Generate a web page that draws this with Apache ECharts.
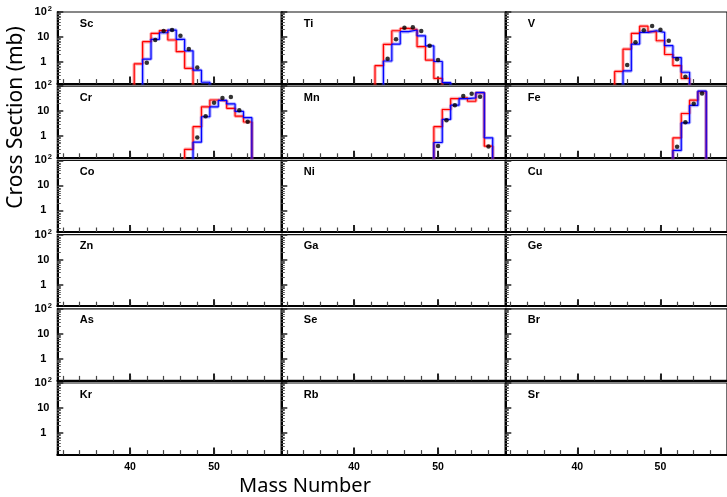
<!DOCTYPE html>
<html><head><meta charset="utf-8">
<script src="https://cdn.jsdelivr.net/npm/echarts@6/dist/echarts.min.js"></script>
<style>html,body{margin:0;padding:0;background:#fff}#c{width:727px;height:497px}</style>
</head><body><div id="c"></div><script>
// ---- data ----
const elements = ['Sc','Ti','V','Cr','Mn','Fe','Co','Ni','Cu','Zn','Ga','Ge','As','Se','Br','Kr','Rb','Sr'];

// red calculation (histogram), [mass number, mb]
const scRed = [[41,0.85],[42,6.5],[43,14],[44,18],[45,7.6],[46,2.6],[47,0.56]];
const tiRed = [[43,0.72],[44,5.1],[45,17.8],[46,22],[47,20],[48,4.1],[49,1.2],[50,0.22]];
const vRed  = [[45,0.42],[46,3.3],[47,14],[48,27],[49,16.3],[50,7.1],[51,2.0],[52,0.72],[53,0.22]];
const crRed = [[47,0.3],[48,2.4],[49,15],[50,28],[51,26],[52,13],[53,6.3],[54,3.7]];
const mnRed = [[50,2.4],[51,11.7],[52,32],[53,34],[54,25],[55,55],[56,0.4]];
const feRed = [[52,0.86],[53,8.1],[54,27.5],[55,60]];

// blue calculation (histogram)
const scBlue = [[42,1.3],[43,8.1],[44,14.8],[45,19],[46,8.1],[47,2.8],[48,0.47],[49,0.155]];
const tiBlue = [[44,1.1],[45,5.2],[46,16.3],[47,19],[48,11.2],[49,4.4],[50,1.05],[51,0.15]];
const vBlue  = [[46,0.44],[47,5.2],[48,15.4],[49,17.8],[50,15.4],[51,4.5],[52,1.5],[53,0.39]];
const crBlue = [[48,0.58],[49,6],[50,15],[51,27],[52,19.5],[53,9.8],[54,5.5]];
const mnBlue = [[50,0.56],[51,4.7],[52,17.4],[53,32],[54,34],[55,55],[56,0.86]];
const feBlue = [[52,0.27],[53,3.4],[54,17],[55,63]];

// measured points
const scExp = [[42,0.94],[43,7.6],[44,17.4],[45,19],[46,11.2],[47,3.3],[48,0.61]];
const tiExp = [[44,1.35],[45,8.1],[46,23.6],[47,24.5],[48,17.4],[49,4.5],[50,1.2]];
const vExp  = [[46,0.76],[47,6.1],[48,18.6],[49,27.5],[50,19.6],[51,7.1],[52,1.3],[53,0.26]];
const crExp = [[48,0.88],[49,6.3],[50,22],[51,34],[52,37],[53,11],[54,3.8]];
const mnExp = [[50,0.41],[51,4.3],[52,17.4],[53,41],[54,50],[55,38],[56,0.39]];
const feExp = [[52,0.38],[53,3.6],[54,20],[55,51]];

// axis ticks / labels
const xMajorTicks = [40, 50];
const xAllTicks = [32,34,36,38,40,42,44,46,48,50,52,54,56];
const yMajorTicks = [1, 10, 100];
const yMinorTicks = [0.2,0.3,0.4,0.5,0.6,0.7,0.8,0.9,2,3,4,5,6,7,8,9,20,30,40,50,60,70,80,90];
const xMin = 31.35, xMax = 58;
const yMin = 0.137, yMax = 100;

const panelData = {
  Sc: [scRed, scBlue, scExp], Ti: [tiRed, tiBlue, tiExp], V: [vRed, vBlue, vExp],
  Cr: [crRed, crBlue, crExp], Mn: [mnRed, mnBlue, mnExp], Fe: [feRed, feBlue, feExp]
};

// ---- layout ----
const colLeft = [57.3, 281.3, 505.3];
const gridW = 224;
const rowTop0 = 12, rowStep = 74.2, gridH = 71.6;

function stepPoints(arr) {
  const floor = 0.01;
  const pts = [[arr[0][0] - 0.5, floor]];
  arr.forEach(([a, v]) => { pts.push([a - 0.5, v]); pts.push([a + 0.5, v]); });
  pts.push([arr[arr.length - 1][0] + 0.5, floor]);
  return pts;
}

const grids = [], xAxes = [], yAxes = [], series = [], graphics = [];
const font = 'Liberation Sans, Arial, sans-serif';

elements.forEach((el, i) => {
  const r = Math.floor(i / 3), c = i % 3;
  const top = rowTop0 + r * rowStep;
  grids.push({ left: colLeft[c], top: top, width: gridW, height: gridH,
    show: true, borderColor: '#111', borderWidth: 1.2, backgroundColor: 'transparent' });
  const xi = xAxes.length, yi = yAxes.length;
  // main x axis: line, labels and short ticks every 2
  xAxes.push({ type: 'value', gridIndex: i, position: 'bottom', min: xMin, max: xMax,
    axisLine: { show: true, onZero: false, lineStyle: { color: '#000', width: 2 } },
    axisTick: { show: true, inside: true, length: 4.5, lineStyle: { color: '#444', width: 1.2 }, customValues: xAllTicks },
    axisLabel: { show: r === 5, customValues: xMajorTicks, color: '#000', fontFamily: font, fontWeight: 'bold', fontSize: 10.5, margin: 7 },
    splitLine: { show: false } });
  // overlay axis: long ticks at 40 and 50
  xAxes.push({ type: 'value', gridIndex: i, position: 'bottom', min: xMin, max: xMax,
    axisLine: { show: false, onZero: false },
    axisTick: { show: true, inside: true, length: 7, lineStyle: { color: '#222', width: 2 }, customValues: xMajorTicks },
    axisLabel: { show: false, customValues: xMajorTicks }, splitLine: { show: false } });
  yAxes.push({ type: 'log', gridIndex: i, position: 'left', min: yMin, max: yMax, logBase: 10,
    axisLine: { show: true, onZero: false, lineStyle: { color: '#000', width: 2 } },
    axisTick: { show: true, inside: true, length: 6, lineStyle: { color: '#222', width: 1.5 }, customValues: yMajorTicks },
    axisLabel: { show: c === 0, customValues: yMajorTicks, align: 'center', margin: 14,
      formatter: v => (Math.abs(v - 100) < 1e-6 ? '{b|10}{s|2}' : '{b|' + Math.round(v) + '}'),
      rich: { b: { fontFamily: font, fontWeight: 'bold', fontSize: 11, color: '#000' },
              s: { fontFamily: font, fontWeight: 'bold', fontSize: 7.5, color: '#000', verticalAlign: 'top', padding: [0, 0, 6, 1] } } },
    splitLine: { show: false } });
  yAxes.push({ type: 'log', gridIndex: i, position: 'left', min: yMin, max: yMax, logBase: 10,
    axisLine: { show: false, onZero: false },
    axisTick: { show: true, inside: true, length: 3.5, lineStyle: { color: '#555', width: 1 }, customValues: yMinorTicks },
    axisLabel: { show: false }, splitLine: { show: false } });

  graphics.push({ type: 'text', left: colLeft[c] + 22.5, top: top + 6,
    style: { text: el, font: 'bold 11px ' + font, fill: '#000' } });

  const d = panelData[el];
  if (d) {
    const [red, blue, exp] = d;
    const common = { type: 'line', xAxisIndex: xi, yAxisIndex: yi, showSymbol: false, symbol: 'none', silent: true, animation: false, clip: true };
    series.push(Object.assign({}, common, { data: stepPoints(red), lineStyle: { color: 'rgba(255,60,60,0.4)', width: 3.4 }, z: 2 }));
    series.push(Object.assign({}, common, { data: stepPoints(blue), lineStyle: { color: 'rgba(60,60,255,0.4)', width: 3.4 }, z: 2 }));
    series.push(Object.assign({}, common, { data: stepPoints(red), lineStyle: { color: '#ff0000', width: 1.2 }, z: 3 }));
    series.push(Object.assign({}, common, { data: stepPoints(blue), lineStyle: { color: '#0000ff', width: 1.2 }, z: 3 }));
    series.push({ type: 'scatter', xAxisIndex: xi, yAxisIndex: yi, data: exp, symbol: 'circle', symbolSize: 4.5,
      itemStyle: { color: '#000' }, silent: true, animation: false, z: 4 });
  }
});

graphics.push({ type: 'text', x: 16, y: 117.5, rotation: Math.PI / 2,
  style: { text: 'Cross Section (mb)', font: '21px "Noto Sans", sans-serif', fill: '#000', textAlign: 'center', textVerticalAlign: 'middle' } });
graphics.push({ type: 'text', x: 305, y: 486,
  style: { text: 'Mass Number', font: '20px "Noto Sans", sans-serif', fill: '#000', textAlign: 'center', textVerticalAlign: 'middle' } });

const chart = echarts.init(document.getElementById('c'), null, { renderer: 'canvas' });
chart.setOption({ animation: false, backgroundColor: '#fff', grid: grids, xAxis: xAxes, yAxis: yAxes, series: series, graphic: graphics });
</script></body></html>
